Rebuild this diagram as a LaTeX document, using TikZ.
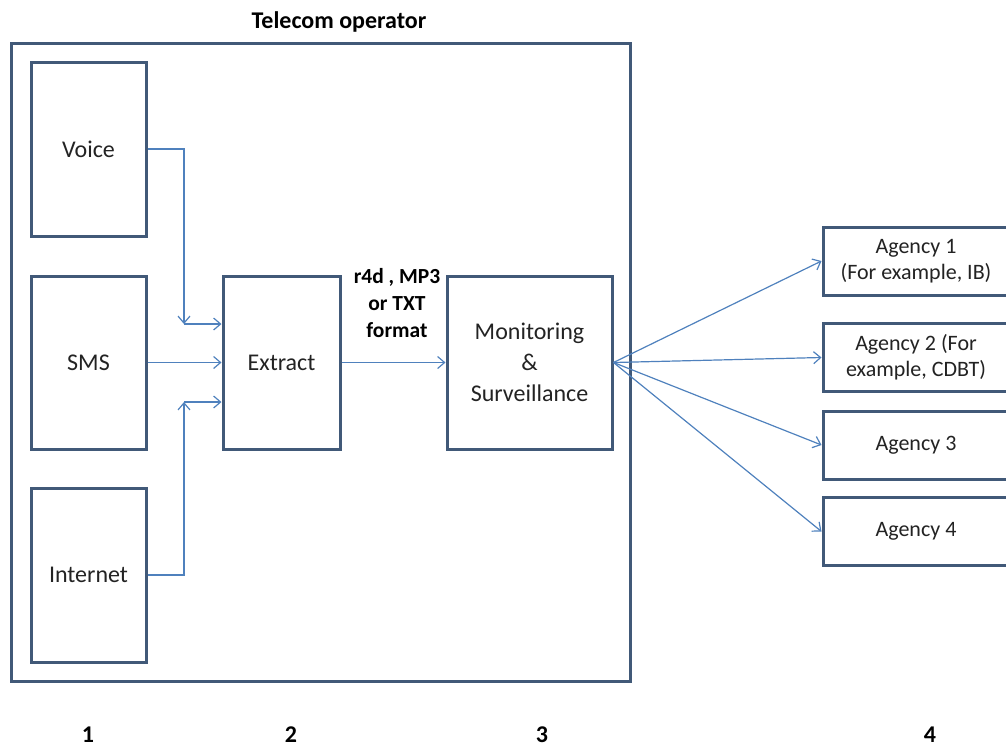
\documentclass[tikz,border=0pt]{standalone}
\usepackage{fontspec}
\setmainfont{Carlito}
\usetikzlibrary{arrows.meta}

\definecolor{frameblue}{RGB}{65,89,120}
\definecolor{linkblue}{RGB}{79,129,189}
\definecolor{inktext}{RGB}{35,35,35}

\begin{document}
\begin{tikzpicture}[
    x=1pt, y=-1pt,
    stage/.style={draw=frameblue, line width=3pt, fill=white, text=inktext,
        align=center, inner sep=0pt, font=\fontsize{24}{31}\selectfont},
    source/.style={stage, minimum width=115pt, minimum height=174pt},
    agency/.style={stage, minimum width=186pt, minimum height=68pt,
        font=\fontsize{22}{26}\selectfont},
    feed/.style={-{Straight Barb[length=7pt,width=12pt]}, draw=linkblue, line width=1.2pt},
    tag/.style={font=\bfseries\fontsize{24}{27}\selectfont, text=black, align=center}
]
    % Page size
    \useasboundingbox (0,0) rectangle (1006,747);

    % Operator frame with its title
    \node[draw=frameblue, line width=3pt, minimum width=619pt, minimum height=638pt]
        (operator) at (320.5,362) {};
    \node[tag] (title) at (339,22) {Telecom operator};

    % Traffic sources
    \node[source] (voice) at (88.5,149) {Voice};
    \node[source, minimum height=173pt] (sms) at (88.5,362.5) {SMS};
    \node[source] (internet) at (88.5,575) {Internet};

    % Processing chain
    \node[stage, minimum width=117pt, minimum height=173pt] (extract) at (281.5,362.5) {Extract};
    \node[stage, minimum width=165pt, minimum height=173pt] (monitor) at (529.5,362.5)
        {Monitoring\\\&\\Surveillance};
    \node[tag, font=\bfseries\fontsize{21.5}{27}\selectfont] (format) at (397,303)
        {r4d , MP3\\or TXT\\format};

    % Receiving agencies
    \node[agency] (agency1) at (916,261) {Agency 1\\(For example, IB)};
    \node[agency] (agency2) at (916,357.5) {Agency 2 (For\\example, CDBT)};
    \node[agency] (agency3) at (916,445) {Agency 3};
    \node[agency] (agency4) at (916,531.5) {Agency 4};

    % Stage numbers
    \node[tag] (num1) at (88,735) {1};
    \node[tag] (num2) at (291,735) {2};
    \node[tag] (num3) at (542,735) {3};
    \node[tag] (num4) at (930,735) {4};

    % Feeds into the extractor
    \coordinate (vturn) at (184,324);
    \coordinate (iturn) at (184,402);
    \draw[feed] (voice.east) -| (vturn);
    \draw[feed] (vturn) -- (vturn -| extract.west);
    \draw[feed] (sms.east) -- (sms.east -| extract.west);
    \draw[feed] (internet.east) -| (iturn);
    \draw[feed] (iturn) -- (iturn -| extract.west);

    % Extracted data to monitoring, then out to the agencies
    \draw[feed] (extract.east) -- (monitor.west);
    \foreach \k in {1,...,4}
        \draw[feed] (monitor.east) -- (agency\k.west);
\end{tikzpicture}
\end{document}
